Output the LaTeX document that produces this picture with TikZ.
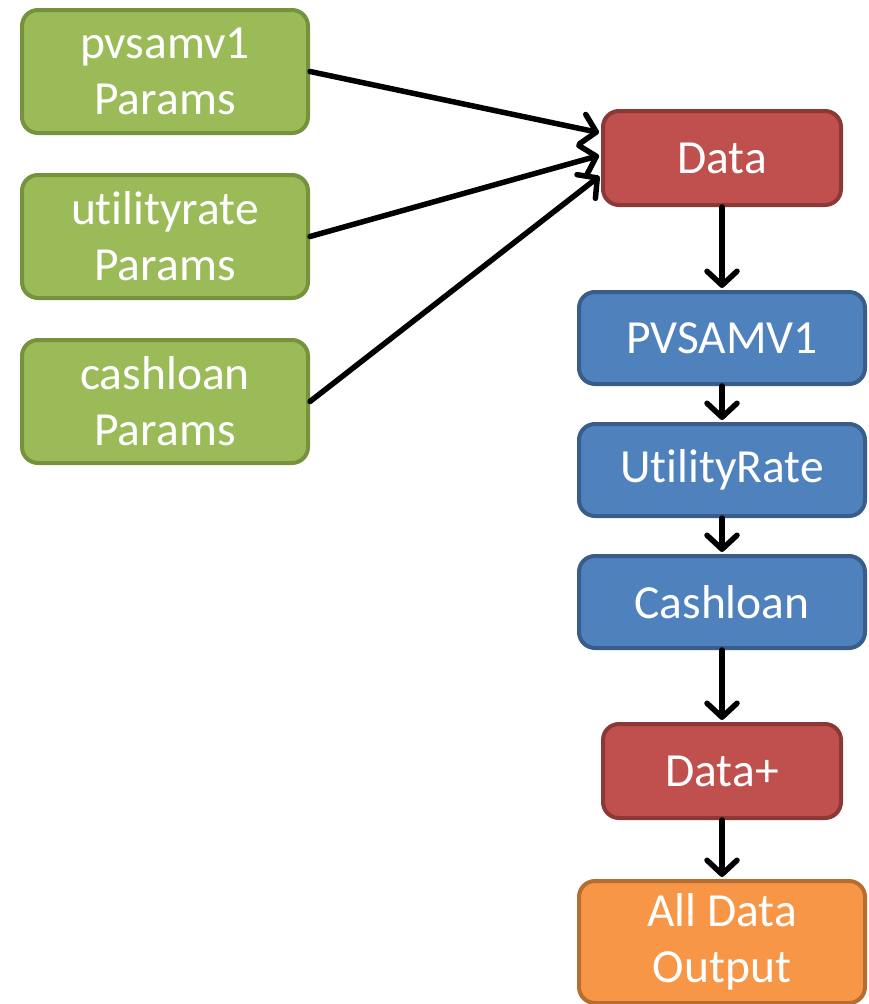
\documentclass[tikz,border=0pt]{standalone}
\usepackage{fontspec}
\setmainfont{Carlito}[Ligatures=NoCommon]
\usetikzlibrary{arrows.meta,positioning}
\definecolor{grn}{RGB}{155,187,89}
\definecolor{grnline}{RGB}{118,146,60}
\definecolor{rd}{RGB}{192,80,77}
\definecolor{rdline}{RGB}{140,56,54}
\definecolor{bl}{RGB}{79,129,189}
\definecolor{blline}{RGB}{56,93,138}
\definecolor{org}{RGB}{247,150,70}
\definecolor{orgline}{RGB}{182,109,49}

\begin{document}
\begin{tikzpicture}[x=1pt,y=-1pt,
  box/.style={draw,line width=4pt,rounded corners=16pt,align=center,text=white,
    font=\fontsize{47.5}{56}\selectfont,inner sep=0pt},
  par/.style={box,fill=grn,draw=grnline,minimum width=286pt,minimum height=123pt},
  dat/.style={box,fill=rd,draw=rdline,minimum width=238pt,minimum height=94pt},
  mod/.style={box,fill=bl,draw=blline,minimum width=286pt,minimum height=92pt},
  res/.style={box,fill=org,draw=orgline,minimum width=286pt,minimum height=122pt},
  ar/.style={line width=5.5pt,line cap=round,
    -{Straight Barb[length=14pt,width=30pt,line cap=round,line join=round]},shorten >=2pt}]
\useasboundingbox (0,0) rectangle (869,1004);
\node[par] (pv) at (165,71.5) {pvsamv1\\Params};
\node[par] (ur) at (165,236.5) {utilityrate\\Params};
\node[par] (cl) at (165,401.5) {cashloan\\Params};
\node[dat] (data) at (722,158) {Data};
\node[mod,below=83pt of data] (PV) {PVSAMV1};
\node[mod,below=36pt of PV] (UR) {UtilityRate};
\node[mod,below=36pt of UR] (CL) {Cashloan};
\node[dat,below=72pt of CL] (dataplus) {Data+};
\node[res,below=59pt of dataplus] (all) {All Data\\Output};
\draw[ar] (pv.east) -- ([yshift=25pt]data.west);
\draw[ar] (ur.east) -- ([yshift=3pt]data.west);
\draw[ar] (cl.east) -- ([yshift=-17pt]data.west);
\draw[ar] (data) -- (PV); \draw[ar] (PV) -- (UR); \draw[ar] (UR) -- (CL);
\draw[ar] (CL) -- (dataplus); \draw[ar] (dataplus) -- (all);
\end{tikzpicture}
\end{document}
